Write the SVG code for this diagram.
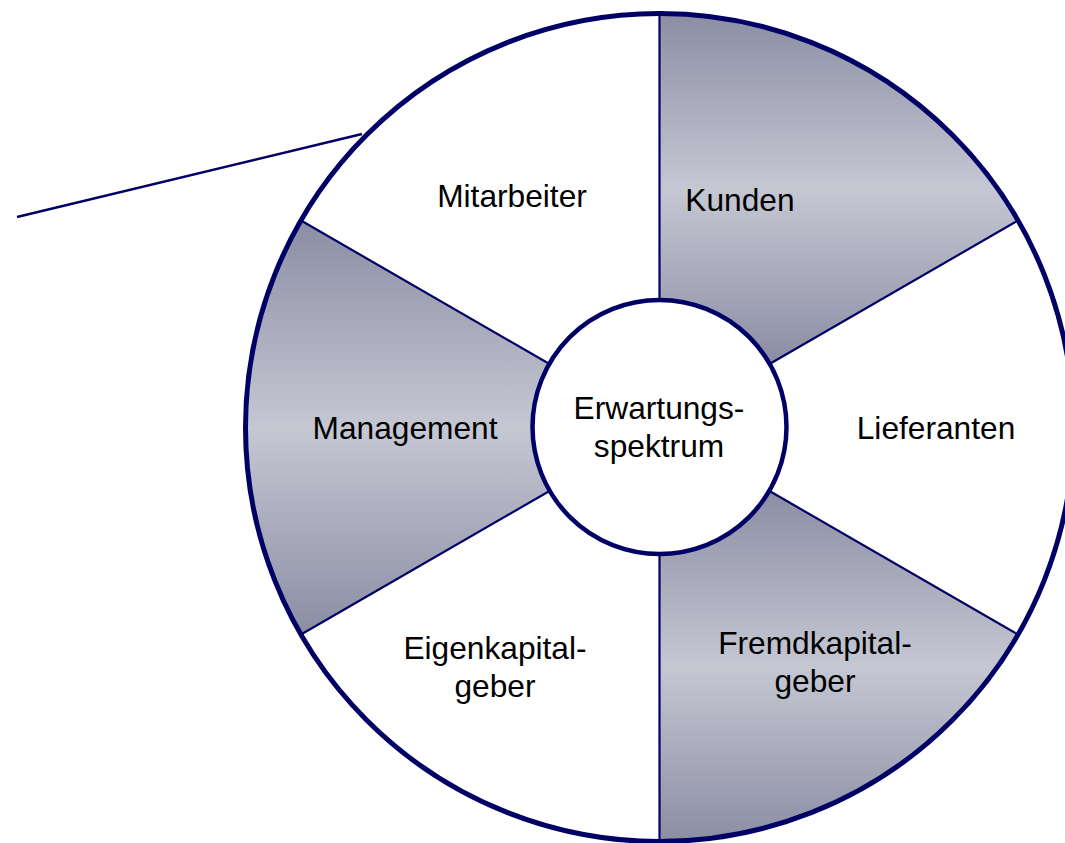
<svg xmlns="http://www.w3.org/2000/svg" width="1065" height="843" viewBox="0 0 1065 843">
  <defs>
    <linearGradient id="shade" x1="0" y1="0" x2="0" y2="1">
      <stop offset="0" stop-color="#8b8ea3"/>
      <stop offset="0.5" stop-color="#c5c7d3"/>
      <stop offset="1" stop-color="#8b8ea3"/>
    </linearGradient>
  </defs>
  <style>
    .lbl { font-family: "Liberation Sans", Arial, sans-serif; font-size: 31.7px; fill: #000; text-anchor: middle; }
    .shaded { fill: url(#shade); stroke: none; }
    .plain { fill: #ffffff; stroke: none; }
    .spoke { stroke: #000066; stroke-width: 2.2; fill: none; }
    .rim { stroke: #000066; stroke-width: 5; fill: none; }
    .hub { stroke: #000066; stroke-width: 4.5; fill: #ffffff; }
    .lead { stroke: #000066; stroke-width: 2.5; fill: none; }
  </style>

  <rect width="1065" height="843" fill="#ffffff"/>

  <!-- ring segments, centre (659.5, 427.5), outer r 414, inner r 127 -->
  <g id="mitarbeiter">
    <path class="plain" d="M301,220.5 A414,414 0 0 1 659.5,13.5 L659.5,300.5 A127,127 0 0 0 549.5,364 Z"/>
    <text class="lbl" x="512" y="207">Mitarbeiter</text>
  </g>
  <g id="kunden">
    <path class="shaded" d="M659.5,13.5 A414,414 0 0 1 1018,220.5 L769.5,364 A127,127 0 0 0 659.5,300.5 Z"/>
    <text class="lbl" x="740" y="211">Kunden</text>
  </g>
  <g id="lieferanten">
    <path class="plain" d="M1018,220.5 A414,414 0 0 1 1018,634.5 L769.5,491 A127,127 0 0 0 769.5,364 Z"/>
    <text class="lbl" x="936" y="439">Lieferanten</text>
  </g>
  <g id="fremdkapitalgeber">
    <path class="shaded" d="M1018,634.5 A414,414 0 0 1 659.5,841.5 L659.5,554.5 A127,127 0 0 0 769.5,491 Z"/>
    <text class="lbl" x="815" y="654">Fremdkapital-</text>
    <text class="lbl" x="815" y="692">geber</text>
  </g>
  <g id="eigenkapitalgeber">
    <path class="plain" d="M659.5,841.5 A414,414 0 0 1 301,634.5 L549.5,491 A127,127 0 0 0 659.5,554.5 Z"/>
    <text class="lbl" x="495" y="659">Eigenkapital-</text>
    <text class="lbl" x="495" y="697">geber</text>
  </g>
  <g id="management">
    <path class="shaded" d="M301,634.5 A414,414 0 0 1 301,220.5 L549.5,364 A127,127 0 0 0 549.5,491 Z"/>
    <text class="lbl" x="405" y="439">Management</text>
  </g>

  <!-- segment dividers and outer rim -->
  <g id="dividers">
    <line class="spoke" x1="659.5" y1="13.5" x2="659.5" y2="300.5"/>
    <line class="spoke" x1="1018" y1="220.5" x2="769.5" y2="364"/>
    <line class="spoke" x1="1018" y1="634.5" x2="769.5" y2="491"/>
    <line class="spoke" x1="659.5" y1="841.5" x2="659.5" y2="554.5"/>
    <line class="spoke" x1="301" y1="634.5" x2="549.5" y2="491"/>
    <line class="spoke" x1="301" y1="220.5" x2="549.5" y2="364"/>
    <circle class="rim" cx="659.5" cy="427.5" r="414"/>
  </g>

  <g id="erwartungsspektrum">
    <circle class="hub" cx="659.5" cy="427" r="127"/>
    <text class="lbl" x="659" y="419">Erwartungs-</text>
    <text class="lbl" x="659" y="457">spektrum</text>
  </g>

  <g id="connectors">
    <line class="lead" x1="17" y1="217" x2="362" y2="134"/>
  </g>
</svg>
